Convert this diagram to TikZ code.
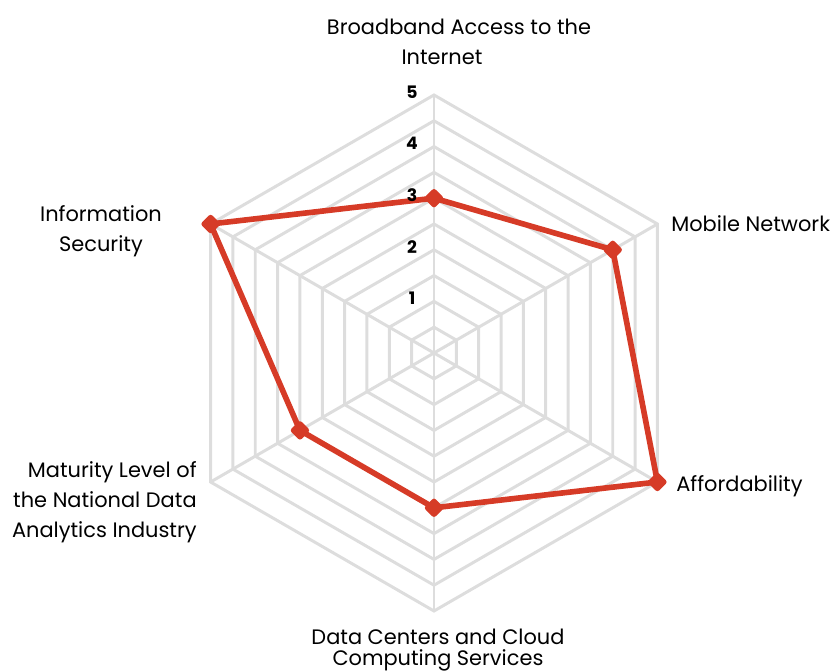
\documentclass[tikz,border=0pt]{standalone}
\usepackage{fontspec}
\setmainfont{Poppins}
\usetikzlibrary{positioning}
\definecolor{gridgray}{HTML}{DDDDDD}
\definecolor{seriesred}{HTML}{D63B27}
\tikzset{>=latex}

\begin{document}
\begin{tikzpicture}[x=0.02cm, y=0.02cm,
    gridline/.style={draw=gridgray, line width=1.7pt},
    seriesline/.style={draw=seriesred, line width=3.2pt, line join=round},
    marker/.style={draw=none, fill=seriesred, rectangle, rotate=45, rounded corners=1.5pt, minimum size=0.29cm, inner sep=0pt},
    axislabel/.style={font=\fontsize{11.9}{17}\selectfont, align=center, inner sep=0pt},
    tick/.style={font=\bfseries\fontsize{9.8}{12}\selectfont, inner sep=0pt}]
    \useasboundingbox (-434,-318) rectangle (404,353);

    % Grid
    \foreach \k in {1,...,10}
        \draw[gridline] (90:\k*25.8) -- (30:\k*25.8) -- (-30:\k*25.8) -- (-90:\k*25.8) -- (-150:\k*25.8) -- (150:\k*25.8) -- cycle;
    \foreach \a in {90,30,-30,-90,-150,150}
        \draw[gridline] (0,0) -- (\a:258);

    % Data
    \coordinate (p1) at (90:3*51.6);
    \coordinate (p2) at (30:4*51.6);
    \coordinate (p3) at (-30:5*51.6);
    \coordinate (p4) at (-90:3*51.6);
    \coordinate (p5) at (-150:3*51.6);
    \coordinate (p6) at (150:5*51.6);
    \draw[seriesline] (p1) -- (p2) -- (p3) -- (p4) -- (p5) -- (p6) -- cycle;
    \foreach \i in {1,...,6}
        \node[marker] (m\i) at (p\i) {};

    % Ticks
    \foreach \v in {1,...,5}
        \node[tick] (t\v) at (-22,\v*51.6+3) {\v};

    % Labels
    \node[axislabel] (broadband) at (25,311) {Broadband Access to the\\Internet\hspace*{0.68cm}};
    \node[axislabel, anchor=west] (mobile) at (237,129) {Mobile Network};
    \node[axislabel, anchor=west] (afford) at (242,-133) {Affordability};
    \node[axislabel, font=\fontsize{11.9}{12.2}\selectfont] (datacenter) at (4,-297) {Data Centers and Cloud\\Computing Services};
    \node[axislabel, align=right, anchor=east] (maturity) at (-237,-149) {Maturity Level of\\the National Data\\Analytics Industry};
    \node[axislabel] (infosec) at (-333,122) {Information\\Security};
\end{tikzpicture}
\end{document}
